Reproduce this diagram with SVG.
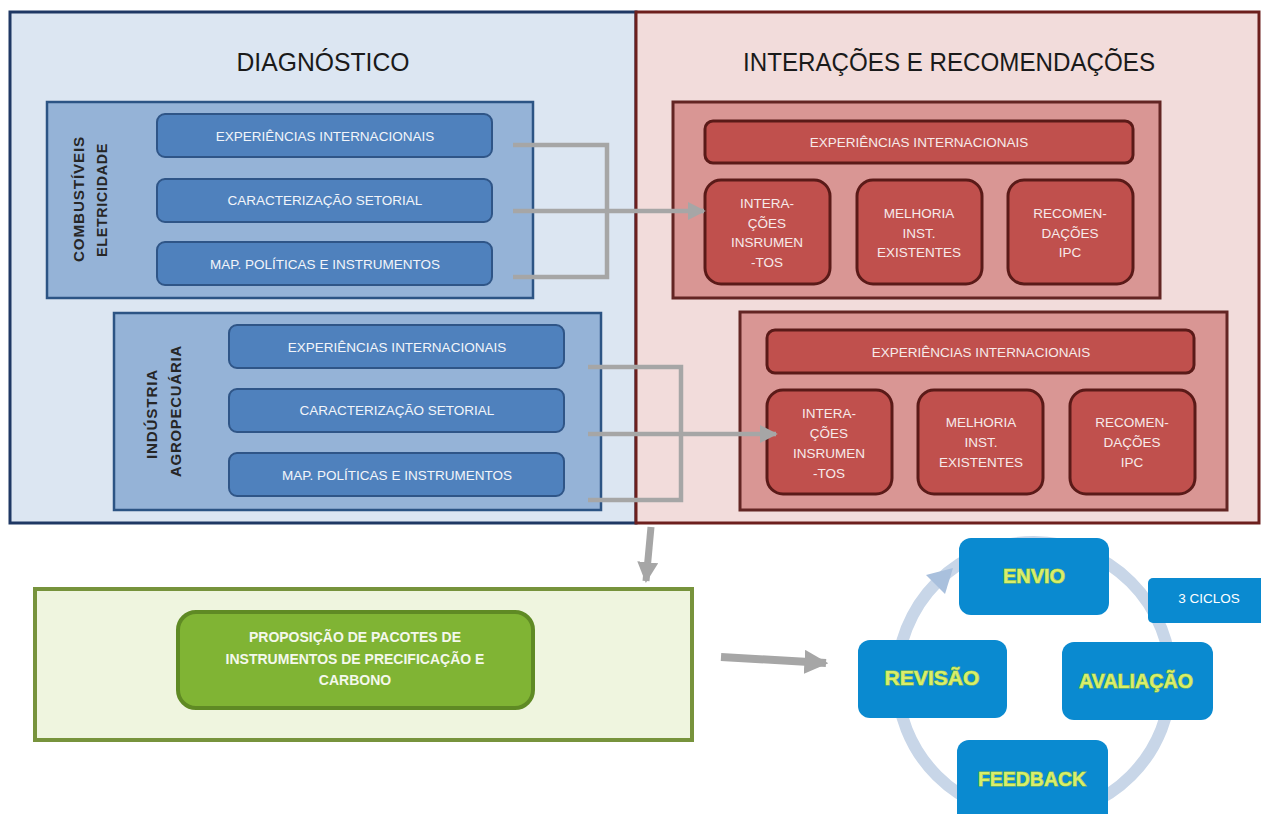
<svg xmlns="http://www.w3.org/2000/svg" width="1261" height="814" viewBox="0 0 1261 814">
<style>
  .title { font-family: "Liberation Sans", Arial, sans-serif; font-size: 25px; fill: #1a1a1a; text-anchor: middle; }
  .panelL { fill: #dce6f2; stroke: #1f3864; stroke-width: 3; }
  .panelR { fill: #f2dcdb; stroke: #6d1f1d; stroke-width: 3; }
  .bbox { fill: #95b3d7; stroke: #2c5484; stroke-width: 2.5; }
  .pill { fill: #4f81bd; stroke: #2f5587; stroke-width: 2; }
  .ptxt { font-family: "Liberation Sans", Arial, sans-serif; font-size: 13.5px; fill: #f2f5fa; text-anchor: middle; }
  .vtxt { font-family: "Liberation Sans", Arial, sans-serif; font-size: 15px; font-weight: bold; fill: #262626; text-anchor: middle; letter-spacing: 0.8px; }
  .rbox { fill: #d99694; stroke: #632523; stroke-width: 3; }
  .rin { fill: #c0504d; stroke: #5a1a18; stroke-width: 3; }
  .rtxt { font-family: "Liberation Sans", Arial, sans-serif; font-size: 13.5px; fill: #f7eaea; text-anchor: middle; }
  .conn { fill: none; stroke: #a6a6a6; stroke-width: 4.5; }
  .thick { fill: none; stroke: #a6a6a6; }
  .gout { fill: #eff5df; stroke: #77933c; stroke-width: 4; }
  .gin { fill: #80b434; stroke: #5f8a24; stroke-width: 4; }
  .gtxt { font-family: "Liberation Sans", Arial, sans-serif; font-size: 14px; font-weight: bold; fill: #f4f8ec; text-anchor: middle; }
  .cyc { fill: #0a8ad0; }
  .ctxt { font-family: "Liberation Sans", Arial, sans-serif; font-size: 20px; font-weight: bold; fill: #d8ee6c; stroke: #8fbf45; stroke-width: 1.2; paint-order: stroke; text-anchor: middle; }
  .small { font-family: "Liberation Sans", Arial, sans-serif; font-size: 13.5px; fill: #ffffff; text-anchor: middle; }
</style>
<defs>
  <marker id="ah" viewBox="0 0 10 10" refX="9" refY="5" markerWidth="4" markerHeight="4" orient="auto" markerUnits="strokeWidth">
    <path d="M0,0 L10,5 L0,10 z" fill="#a6a6a6"/>
  </marker>
  <marker id="ahBig" viewBox="0 0 10 10" refX="9" refY="5" markerWidth="3" markerHeight="3" orient="auto" markerUnits="strokeWidth">
    <path d="M0,0 L10,5 L0,10 z" fill="#a6a6a6"/>
  </marker>
</defs>

<g id="panel-diagnostico">
  <rect class="panelL" x="10" y="12" width="626" height="511"/>
  <text class="title" x="323" y="71" textLength="173" lengthAdjust="spacingAndGlyphs">DIAGNÓSTICO</text>
</g>
<g id="panel-interacoes">
  <rect class="panelR" x="636" y="12" width="623" height="511"/>
  <text class="title" x="949" y="71" textLength="412" lengthAdjust="spacingAndGlyphs">INTERAÇÕES E RECOMENDAÇÕES</text>
</g>

<g id="grupo-combustiveis">
  <rect class="bbox" x="47" y="102" width="486" height="196"/>
  <text class="vtxt" transform="translate(84,199) rotate(-90)" textLength="126" lengthAdjust="spacingAndGlyphs">COMBUSTÍVEIS</text>
  <text class="vtxt" transform="translate(107,200) rotate(-90)" textLength="114" lengthAdjust="spacingAndGlyphs">ELETRICIDADE</text>
</g>
<g id="c-exp"><rect class="pill" x="157" y="114" width="335" height="43" rx="8"/><text class="ptxt" x="325" y="141">EXPERIÊNCIAS INTERNACIONAIS</text></g>
<g id="c-car"><rect class="pill" x="157" y="179" width="335" height="43" rx="8"/><text class="ptxt" x="325" y="205">CARACTERIZAÇÃO SETORIAL</text></g>
<g id="c-map"><rect class="pill" x="157" y="242" width="335" height="43" rx="8"/><text class="ptxt" x="325" y="269">MAP. POLÍTICAS E INSTRUMENTOS</text></g>

<g id="grupo-industria">
  <rect class="bbox" x="114" y="313" width="487" height="197"/>
  <text class="vtxt" transform="translate(157,414) rotate(-90)" textLength="90" lengthAdjust="spacingAndGlyphs">INDÚSTRIA</text>
  <text class="vtxt" transform="translate(181,411) rotate(-90)" textLength="132" lengthAdjust="spacingAndGlyphs">AGROPECUÁRIA</text>
</g>
<g id="i-exp"><rect class="pill" x="229" y="325" width="335" height="43" rx="8"/><text class="ptxt" x="397" y="352">EXPERIÊNCIAS INTERNACIONAIS</text></g>
<g id="i-car"><rect class="pill" x="229" y="389" width="335" height="43" rx="8"/><text class="ptxt" x="397" y="415">CARACTERIZAÇÃO SETORIAL</text></g>
<g id="i-map"><rect class="pill" x="229" y="453" width="335" height="43" rx="8"/><text class="ptxt" x="397" y="480">MAP. POLÍTICAS E INSTRUMENTOS</text></g>

<g id="rec-1">
  <rect class="rbox" x="673" y="102" width="487" height="196"/>
  <rect class="rin" x="705" y="121" width="428" height="42" rx="8"/>
  <text class="rtxt" x="919" y="147">EXPERIÊNCIAS INTERNACIONAIS</text>
</g>
<g id="rec-1-int"><rect class="rin" x="705" y="180" width="125" height="104" rx="16"/>
  <text class="rtxt" x="767" y="208">INTERA-</text><text class="rtxt" x="767" y="228">ÇÕES</text><text class="rtxt" x="767" y="247">INSRUMEN</text><text class="rtxt" x="767" y="267">-TOS</text></g>
<g id="rec-1-mel"><rect class="rin" x="857" y="180" width="125" height="104" rx="16"/>
  <text class="rtxt" x="919" y="218">MELHORIA</text><text class="rtxt" x="919" y="238">INST.</text><text class="rtxt" x="919" y="257">EXISTENTES</text></g>
<g id="rec-1-rec"><rect class="rin" x="1008" y="180" width="125" height="104" rx="16"/>
  <text class="rtxt" x="1070" y="218">RECOMEN-</text><text class="rtxt" x="1070" y="238">DAÇÕES</text><text class="rtxt" x="1070" y="257">IPC</text></g>

<g id="rec-2">
  <rect class="rbox" x="740" y="312" width="487" height="198"/>
  <rect class="rin" x="767" y="330" width="427" height="43" rx="8"/>
  <text class="rtxt" x="981" y="357">EXPERIÊNCIAS INTERNACIONAIS</text>
</g>
<g id="rec-2-int"><rect class="rin" x="767" y="390" width="125" height="104" rx="16"/>
  <text class="rtxt" x="829" y="418">INTERA-</text><text class="rtxt" x="829" y="438">ÇÕES</text><text class="rtxt" x="829" y="458">INSRUMEN</text><text class="rtxt" x="829" y="478">-TOS</text></g>
<g id="rec-2-mel"><rect class="rin" x="918" y="390" width="125" height="104" rx="16"/>
  <text class="rtxt" x="981" y="427">MELHORIA</text><text class="rtxt" x="981" y="447">INST.</text><text class="rtxt" x="981" y="467">EXISTENTES</text></g>
<g id="rec-2-rec"><rect class="rin" x="1070" y="390" width="125" height="104" rx="16"/>
  <text class="rtxt" x="1132" y="427">RECOMEN-</text><text class="rtxt" x="1132" y="447">DAÇÕES</text><text class="rtxt" x="1132" y="467">IPC</text></g>

<g id="proposicao">
  <rect class="gout" x="35" y="589" width="657" height="151"/>
  <rect class="gin" x="178" y="612" width="355" height="96" rx="18"/>
  <text class="gtxt" x="355" y="642">PROPOSIÇÃO DE PACOTES DE</text>
  <text class="gtxt" x="355" y="664">INSTRUMENTOS DE PRECIFICAÇÃO E</text>
  <text class="gtxt" x="355" y="685">CARBONO</text>
</g>

<g id="connectors">
  <path class="conn" d="M513,145 H607 V277 H513"/>
  <path class="conn" d="M513,211 H704" marker-end="url(#ah)"/>
  <path class="conn" d="M588,367 H681 V500 H588"/>
  <path class="conn" d="M588,434 H776" marker-end="url(#ah)"/>
  <path class="thick" style="stroke-width:7" d="M651,527 L646,581" marker-end="url(#ahBig)"/>
  <path class="thick" style="stroke-width:8" d="M721,657 L826,663" marker-end="url(#ahBig)"/>
  <circle cx="1034" cy="679" r="137" fill="none" stroke="#c8d6e8" stroke-width="12"/>
  <path d="M926,575 L953,568 L945,594 z" fill="#a9c0dd"/>
</g>

<g id="envio"><rect class="cyc" x="959" y="538" width="150" height="77" rx="12"/><text class="ctxt" x="1034" y="583">ENVIO</text></g>
<g id="ciclos"><rect class="cyc" x="1148" y="578" width="118" height="45" rx="5"/><text class="small" x="1209" y="603">3 CICLOS</text></g>
<g id="revisao"><rect class="cyc" x="858" y="640" width="149" height="78" rx="12"/><text class="ctxt" x="932" y="685" textLength="95" lengthAdjust="spacingAndGlyphs">REVISÃO</text></g>
<g id="avaliacao"><rect class="cyc" x="1062" y="642" width="151" height="78" rx="12"/><text class="ctxt" x="1136" y="688" textLength="114" lengthAdjust="spacingAndGlyphs">AVALIAÇÃO</text></g>
<g id="feedback"><rect class="cyc" x="957" y="740" width="151" height="85" rx="12"/><text class="ctxt" x="1032" y="786" textLength="108" lengthAdjust="spacingAndGlyphs">FEEDBACK</text></g>
</svg>
